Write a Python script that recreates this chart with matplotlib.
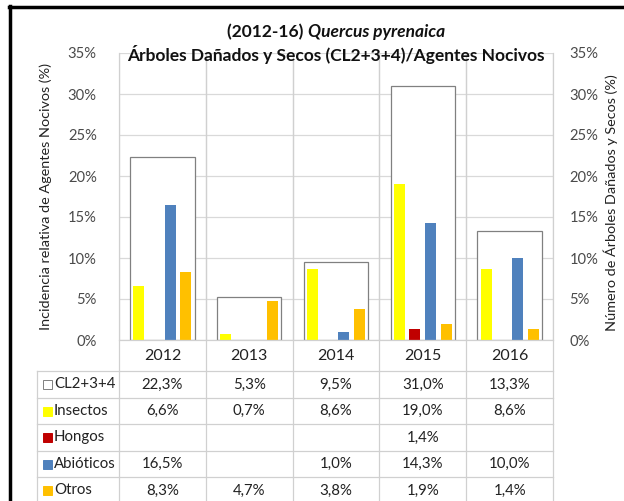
import numpy as np
import matplotlib
matplotlib.use("Agg")
import matplotlib.pyplot as plt
from matplotlib.lines import Line2D
from matplotlib.patches import Rectangle

plt.rcParams['font.family'] = ['Lato', 'DejaVu Sans']

years = ['2012', '2013', '2014', '2015', '2016']
cl234 = [22.3, 5.3, 9.5, 31.0, 13.3]
insectos = [6.6, 0.7, 8.6, 19.0, 8.6]
hongos = [None, None, None, 1.4, None]
abioticos = [16.5, None, 1.0, 14.3, 10.0]
otros = [8.3, 4.7, 3.8, 1.9, 1.4]

series_names = ['Insectos', 'Hongos', 'Abióticos', 'Otros']
series_vals = [insectos, hongos, abioticos, otros]
series_cols = ['#FFFF00', '#C00000', '#4F81BD', '#FFC000']
yticks = [0, 5, 10, 15, 20, 25, 30, 35]

W, H = 624, 501
fig = plt.figure(figsize=(W / 100, H / 100), dpi=100)

def fx(x):
    return x / W

def fy(y):
    return 1 - y / H

L, R, T, B = 119, 553, 53, 340
ax = fig.add_axes([fx(L), fy(B), fx(R) - fx(L), fy(T) - fy(B)])
x = np.arange(len(years))
ax.set_xlim(-0.5, len(years) - 0.5)
ax.set_ylim(0, 35)

grid_c = '#D9D9D9'
for v in yticks:
    ax.axhline(v, color=grid_c, lw=0.9, zorder=0)
for i in range(len(years) + 1):
    ax.axvline(i - 0.5, color=grid_c, lw=0.9, zorder=0)

ax.bar(x, cl234, width=0.74, facecolor='white', edgecolor='#808080', lw=0.9, zorder=1)
pitch = 0.181
for k, (vals, col) in enumerate(zip(series_vals, series_cols)):
    v = np.array([np.nan if a is None else a for a in vals], dtype=float)
    ax.bar(x + (k - 1.5) * pitch, np.nan_to_num(v), width=0.127, color=col, lw=0, zorder=2)

tick_c = '#4a4a4a'
for s in ax.spines.values():
    s.set_visible(False)
ax.set_xticks([])
ax.set_yticks(yticks)
ax.set_yticklabels([f'{t}%' for t in yticks], fontsize=10.6, color=tick_c)
ax.tick_params(axis='y', length=0, pad=16)

ax2 = ax.twinx()
ax2.set_ylim(0, 35)
ax2.set_yticks(yticks)
ax2.set_yticklabels([f'{t}%' for t in yticks], fontsize=10.6, color=tick_c)
ax2.tick_params(axis='y', length=0, pad=12)
for s in ax2.spines.values():
    s.set_visible(False)
ax2.set_xticks([])

# axis titles
fig.text(fx(46), fy(196), 'Incidencia relativa de Agentes Nocivos (%)', rotation=90,
         ha='center', va='center', fontsize=10.4, color='#222222')
fig.text(fx(611), fy(203), 'Número de Árboles Dañados y Secos (%)', rotation=90,
         ha='center', va='center', fontsize=10.4, color='#222222')

# title
fig.canvas.draw()
rend = fig.canvas.get_renderer()
t2 = fig.text(fx(336), fy(55), 'Árboles Dañados y Secos (CL2+3+4)/Agentes Nocivos', fontsize=12,
              weight='bold', ha='center', va='center', color='#111111')
w2 = t2.get_window_extent(rend).width
fs = 12 * 417 / w2
t2.set_fontsize(fs)
t1a = fig.text(0, fy(32), '(2012-16) ', fontsize=fs, weight='bold', ha='left', va='center', color='#111111')
t1b = fig.text(0, fy(32), 'Quercus pyrenaica', fontsize=fs, weight='bold', style='italic',
               ha='left', va='center', color='#111111')
wa = t1a.get_window_extent(rend).width
wb = t1b.get_window_extent(rend).width
x0 = 336 - (wa + wb) / 2
t1a.set_x(fx(x0))
t1b.set_x(fx(x0 + wa))

# data table
line_c = '#D0D0D0'
def hline(y, x1, x2, c=line_c, lw=0.9):
    fig.add_artist(Line2D([fx(x1), fx(x2)], [fy(y), fy(y)], color=c, lw=lw))

def vline(xp, y1, y2, c=line_c, lw=0.9):
    fig.add_artist(Line2D([fx(xp), fx(xp)], [fy(y1), fy(y2)], color=c, lw=lw))

col_w = (R - L) / len(years)
row_tops = [371, 398, 424, 451, 477, 504]
hline(B, L, R)
for y in row_tops:
    hline(y, 37, R)
vline(37, 371, 504)
for i in range(len(years) + 1):
    vline(L + i * col_w, T, 504)

for i, yr in enumerate(years):
    fig.text(fx(L + (i + 0.5) * col_w), fy(356), yr, ha='center', va='center', fontsize=11.5, color='#222222')

row_names = ['CL2+3+4'] + series_names
row_vals = [cl234] + series_vals
row_cols = ['white'] + series_cols
for r, (nm, vals, col) in enumerate(zip(row_names, row_vals, row_cols)):
    yc = (row_tops[r] + row_tops[r + 1]) / 2
    fig.add_artist(Rectangle((fx(43), fy(yc + 4.5)), fx(9), 9 / H, facecolor=col,
                             edgecolor='#808080' if col == 'white' else col, lw=0.7))
    fig.text(fx(54), fy(yc), nm, ha='left', va='center', fontsize=10.8, color='#222222')
    for i, v in enumerate(vals):
        if v is None:
            continue
        s = f'{v:.1f}%'.replace('.', ',')
        fig.text(fx(L + (i + 0.5) * col_w), fy(yc), s, ha='center', va='center', fontsize=10.8, color='#222222')

# outer black frame
fig.add_artist(Line2D([fx(10), fx(10)], [fy(6), fy(501)], color='black', lw=2.5))
fig.add_artist(Line2D([fx(9), fx(624)], [fy(7), fy(7)], color='black', lw=2.5))

fig.savefig('out.png', dpi=100)
